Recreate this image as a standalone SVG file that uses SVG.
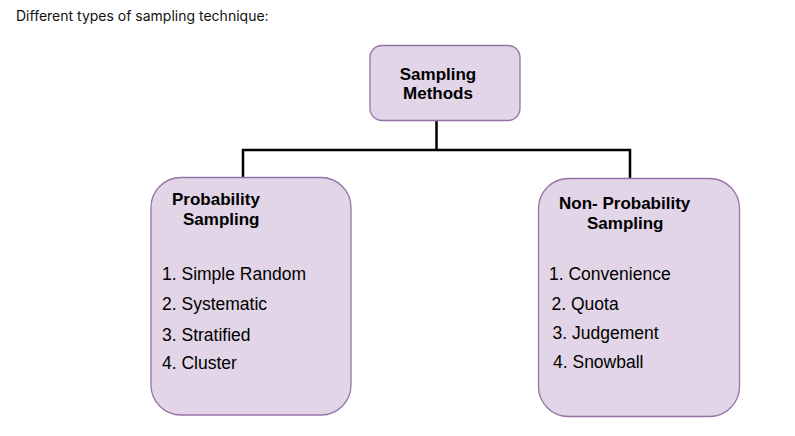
<svg xmlns="http://www.w3.org/2000/svg" width="795" height="436" viewBox="0 0 795 436">
<style>
.node{fill:#e1d5e7;stroke:#9673a6;stroke-width:1.3}
.t{font-family:"Liberation Sans",Arial,sans-serif;font-size:17px;fill:#000}
.i{font-size:17.5px}
.b{font-weight:bold}
.edge{fill:none;stroke:#000;stroke-width:2.5}
</style>
<rect width="795" height="436" fill="#fff"/>
<text x="16" y="21" font-family="Inter,sans-serif" font-size="14" fill="#111">Different types of sampling technique:</text>
<g id="connectors">
<path class="edge" d="M436.5 121 V150 M243 178 V150 H630 V179"/>
</g>
<g id="root">
<rect class="node" x="370" y="45.5" width="150" height="75" rx="12"/>
<text class="t b" x="438" y="80" text-anchor="middle">Sampling</text>
<text class="t b" x="438" y="99" text-anchor="middle">Methods</text>
</g>
<g id="probability">
<rect class="node" x="151" y="177.5" width="200" height="237.5" rx="30"/>
<text class="t b" x="172" y="205">Probability</text>
<text class="t b" x="183" y="225">Sampling</text>
<text class="t i" x="162" y="280">1. Simple Random</text>
<text class="t i" x="162" y="310">2. Systematic</text>
<text class="t i" x="162" y="341">3. Stratified</text>
<text class="t i" x="162" y="369">4. Cluster</text>
</g>
<g id="nonprobability">
<rect class="node" x="538.5" y="178.5" width="201" height="238" rx="30"/>
<text class="t b" x="559" y="209">Non- Probability</text>
<text class="t b" x="587" y="229">Sampling</text>
<text class="t i" x="549" y="280">1. Convenience</text>
<text class="t i" x="551.5" y="310">2. Quota</text>
<text class="t i" x="552.5" y="339">3. Judgement</text>
<text class="t i" x="553" y="368">4. Snowball</text>
</g>
</svg>
